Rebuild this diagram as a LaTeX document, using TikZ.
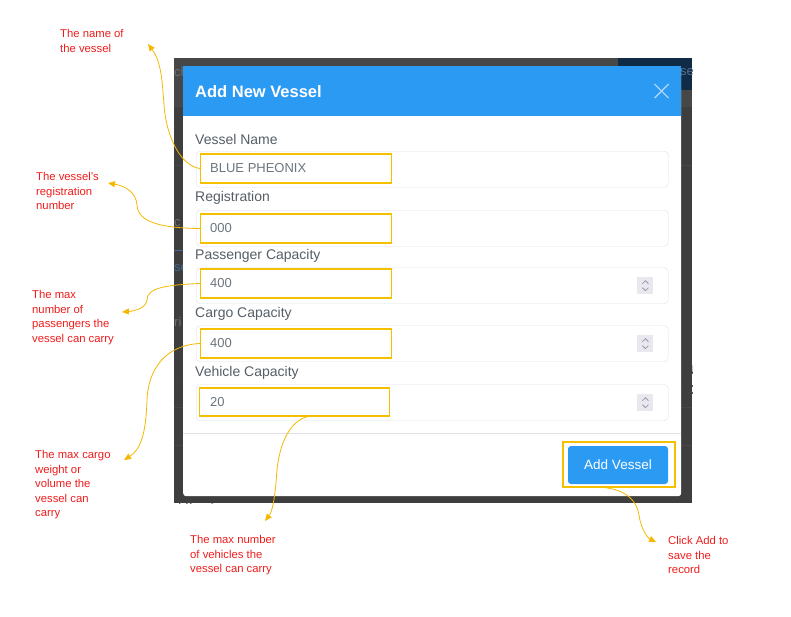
\documentclass[tikz,border=0pt]{standalone}
\usepackage{fontspec}
\setmainfont{Liberation Sans}
\usetikzlibrary{calc, arrows.meta, positioning}
\definecolor{uiblue}{HTML}{2B9AF3}
\definecolor{shadegray}{HTML}{3E3E3E}
\definecolor{bandgray}{HTML}{474747}
\definecolor{navy}{HTML}{0F2B46}
\definecolor{bggray}{HTML}{6E6E6E}
\definecolor{bgblue}{HTML}{3E6A94}
\definecolor{fieldline}{HTML}{DEE2E6}
\definecolor{labelgray}{HTML}{565E67}
\definecolor{valuegray}{HTML}{6C757D}
\definecolor{hlyellow}{HTML}{F5C000}
\definecolor{arrowgold}{HTML}{F5B800}
\definecolor{notered}{HTML}{EE1C1C}
\definecolor{closeblue}{HTML}{A8D4F8}
\definecolor{spinbg}{HTML}{E8E8EE}
\definecolor{spinfg}{HTML}{9A9AA8}

\begin{document}
\begin{tikzpicture}
    [x=1pt, y=-1pt,
    spinner/.pic={
    \fill[spinbg] (-8,-8.5) rectangle (8,8.5);
    \draw[spinfg, line width=0.8pt] (-3,-2) -- (0,-5) -- (3,-2);
    \draw[spinfg, line width=0.8pt] (-3,2) -- (0,5) -- (3,2);},
    dialog/.style={rectangle, anchor=north west, fill=white, rounded corners=3pt, minimum width=498pt, minimum height=430pt, inner sep=0},
    title/.style={anchor=west, inner sep=0, text=white, font=\bfseries\fontsize{16.5}{18}\selectfont},
    fieldlabel/.style={anchor=west, inner sep=0, text=labelgray, font=\fontsize{14}{16}\selectfont},
    field/.style={rectangle, anchor=north west, draw=fieldline, rounded corners=4pt, minimum width=472pt, minimum height=36pt, inner sep=0},
    highlight/.style={rectangle, anchor=west, draw=hlyellow, line width=1.3pt, minimum width=191pt, minimum height=29pt, inner sep=0},
    fieldvalue/.style={anchor=west, inner sep=0, text=valuegray, font=\fontsize{13}{15}\selectfont},
    button/.style={rectangle, fill=uiblue, text=white, rounded corners=3pt, minimum width=100pt, minimum height=38pt, font=\fontsize{13.5}{15}\selectfont},
    note/.style={anchor=north west, inner sep=0, align=left, text=notered, font=\fontsize{11.3}{14.5}\selectfont},
    callout/.style={draw=arrowgold, line width=0.8pt, -{Triangle[length=7pt,width=6pt]}},
    bgtext/.style={anchor=west, inner sep=0, text=bggray, font=\fontsize{13}{15}\selectfont}]
\useasboundingbox (0,0) rectangle (791,616);
% page behind the modal
\fill[shadegray] (174,58) rectangle (692,503);
\fill[bandgray] (174,58) rectangle (692,107);
\fill[navy] (618,58) rectangle (692,90);
\begin{scope}
\clip (174,58) rectangle (692,503);
\draw[bandgray, line width=1pt] (174,165) -- (692,165) (174,407) -- (692,407) (174,445) -- (692,445);
\draw[bgblue, line width=1pt] (174,250) -- (200,250);
\node[bgtext] (bgSearch) at (174,72) {ch};
\node[bgtext, text=bgblue!70!gray] (bgUse) at (680,72) {se};
\node[bgtext] (bgC) at (174,223) {c};
\node[bgtext, text=bgblue] (bgSe) at (174,268) {se};
\node[bgtext] (bgRi) at (174,322) {ri};
\node[bgtext, text=black!75, font=\bfseries\fontsize{13}{15}\selectfont] (bgG) at (174,381) {g};
\node[bgtext, text=black!75, font=\bfseries\fontsize{13}{15}\selectfont] (bgU) at (686,370) {U};
\node[bgtext, text=black!75, font=\bfseries\fontsize{13}{15}\selectfont] (bgCc) at (686,390) {C};
\node[bgtext, text=black!70] (bgEntries) at (178,507) {f 0 entries};
\end{scope}
% modal
\node[dialog] (dlg) at (183,66) {};
\fill[uiblue] (183,66) rectangle (681,116);
\node[title] (title) at (195,92) {Add New Vessel};
\coordinate (close) at (661.5,91);
\draw[closeblue, line width=1.4pt] ($(close)+(-7,-7)$) -- ($(close)+(7,7)$) ($(close)+(7,-7)$) -- ($(close)+(-7,7)$);
\node[fieldlabel] (lab1) at (195,139) {Vessel Name};
\node[field] (field1) at (196,151) {};
\node[highlight] (hl1) at (200,168.5) {};
\node[fieldvalue, right=10pt of hl1.west] (val1) {BLUE PHEONIX};
\node[fieldlabel] (lab2) at (195,198) {Registration};
\node[field] (field2) at (196,210) {};
\node[highlight] (hl2) at (200,228.5) {};
\node[fieldvalue, right=10pt of hl2.west] (val2) {000};
\node[fieldlabel] (lab3) at (195,256) {Passenger Capacity};
\node[field] (field3) at (196,267.5) {};
\node[highlight] (hl3) at (200,283.5) {};
\node[fieldvalue, right=10pt of hl3.west] (val3) {400};
\pic at ($(field3.east)+(-23,0)$) {spinner};
\node[fieldlabel] (lab4) at (195,314) {Cargo Capacity};
\node[field] (field4) at (196,325.5) {};
\node[highlight] (hl4) at (200,343.5) {};
\node[fieldvalue, right=10pt of hl4.west] (val4) {400};
\pic at ($(field4.east)+(-23,0)$) {spinner};
\node[fieldlabel] (lab5) at (195,373) {Vehicle Capacity};
\node[field] (field5) at (196,384.5) {};
\node[highlight, minimum width=190pt, minimum height=28pt] (hl5) at (199,402) {};
\node[fieldvalue, right=11pt of hl5.west] (val5) {20};
\pic at ($(field5.east)+(-23,0)$) {spinner};
\draw[fieldline, line width=1pt] (183,433) -- (681,433);
\node[button] (addBtn) at (618,465) {Add Vessel};
\node[draw=hlyellow, line width=1.3pt, minimum width=112pt, minimum height=45pt, inner sep=0] (hlBtn) at (619,464.5) {};
% notes
\node[note] (noteName) at (60,29.5) {The name of\\the vessel};
\node[note] (noteReg) at (36,172.5) {The vessel's\\registration\\number};
\node[note] (notePass) at (32,290.5) {The max\\number of\\passengers the\\vessel can carry};
\node[note] (noteCargo) at (35,450.5) {The max cargo\\weight or\\volume the\\vessel can\\carry};
\node[note] (noteVeh) at (190,535.5) {The max number\\of vehicles the\\vessel can carry};
\node[note] (noteAdd) at (668,536.5) {Click Add to\\save the\\record};
\coordinate (tip1) at (148,44);
\coordinate (tip2) at (108,183);
\coordinate (tip3) at (122,312);
\coordinate (tip4) at (124,460);
\coordinate (tip5) at (265,521);
\coordinate (tip6) at (656,542);
\draw[callout] (hl1.west) .. controls (180,166) and (166,135) .. (164,105) .. controls (162,75) and (160,60) .. (tip1);
\draw[callout] (hl2.west) .. controls (160,228) and (138,222) .. (137,205) .. controls (136,192) and (125,186) .. (tip2);
\draw[callout] (hl3.west) .. controls (165,285) and (147,288) .. (147,300) .. controls (146,308) and (135,311) .. (tip3);
\draw[callout] (hl4.west) .. controls (165,345) and (148,370) .. (147,400) .. controls (146,435) and (140,450) .. (tip4);
\draw[callout] ($(hl5.south)+(13,0)$) .. controls (292,420) and (280,440) .. (277,470) .. controls (275,500) and (272,512) .. (tip5);
\draw[callout] ($(hlBtn.south)+(-14,0)$) .. controls (625,490) and (637,500) .. (639,515) .. controls (641,530) and (648,538) .. (tip6);
\end{tikzpicture}
\end{document}
